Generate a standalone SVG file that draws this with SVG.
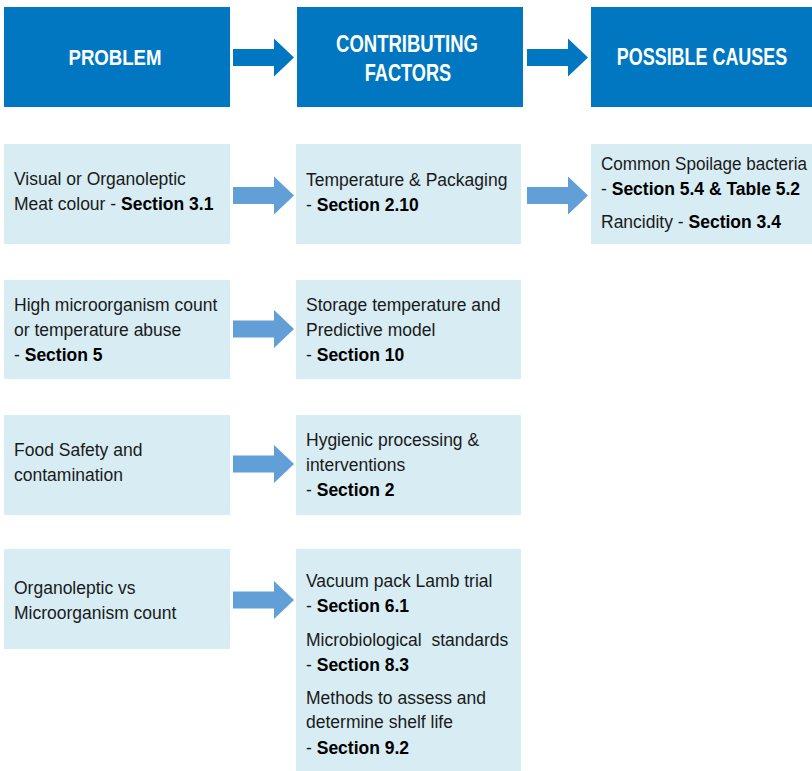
<svg xmlns="http://www.w3.org/2000/svg" width="812" height="771" viewBox="0 0 812 771">
<style>
.hdr{fill:#0077C0}
.box{fill:#D7ECF3}
.harr{fill:#0077C0}
.arr{fill:#619FD6}
.ht{font-family:"Liberation Sans",Arial,sans-serif;font-weight:bold;font-size:23px;fill:#FFFFFF;text-anchor:middle}
.t{font-family:"Liberation Sans",Arial,sans-serif;font-size:17.5px;fill:#1A1A1A}
.b{font-weight:bold;fill:#000000}
</style>
<defs>
<polygon id="arrow" points="0,-8.5 41,-8.5 41,-19 61,0 41,19 41,8.5 0,8.5"/>
</defs>
<rect width="812" height="771" fill="#FFFFFF"/>

<g id="hdr-problem">
<rect class="hdr" x="4" y="7" width="226" height="100"/>
<text class="ht" transform="translate(115 65) scale(0.81 1)">PROBLEM</text>
</g>
<g id="hdr-factors">
<rect class="hdr" x="297" y="7" width="226" height="100"/>
<text class="ht" transform="translate(407 52) scale(0.805 1)">CONTRIBUTING</text>
<text class="ht" transform="translate(408 81) scale(0.79 1)">FACTORS</text>
</g>
<g id="hdr-causes">
<rect class="hdr" x="591" y="7" width="221" height="100"/>
<text class="ht" transform="translate(702 65) scale(0.78 1)">POSSIBLE CAUSES</text>
</g>

<g id="p1">
<rect class="box" x="4" y="144" width="226" height="100"/>
<text class="t" x="14" y="185">Visual or Organoleptic</text>
<text class="t" x="14" y="210">Meat colour - <tspan class="b">Section 3.1</tspan></text>
</g>
<g id="f1">
<rect class="box" x="296" y="144" width="225" height="100"/>
<text class="t" x="306" y="186">Temperature &amp; Packaging</text>
<text class="t" x="306" y="211">- <tspan class="b">Section 2.10</tspan></text>
</g>
<g id="c1">
<rect class="box" x="591" y="144" width="221" height="100"/>
<text class="t" x="601" y="170" textLength="206" lengthAdjust="spacingAndGlyphs">Common Spoilage bacteria</text>
<text class="t" x="601" y="195">- <tspan class="b">Section 5.4 &amp; Table 5.2</tspan></text>
<text class="t" x="601" y="228">Rancidity - <tspan class="b">Section 3.4</tspan></text>
</g>

<g id="p2">
<rect class="box" x="4" y="280" width="226" height="99"/>
<text class="t" x="14" y="311">High microorganism count</text>
<text class="t" x="14" y="336">or temperature abuse</text>
<text class="t" x="14" y="361">- <tspan class="b">Section 5</tspan></text>
</g>
<g id="f2">
<rect class="box" x="296" y="280" width="225" height="99"/>
<text class="t" x="306" y="311">Storage temperature and</text>
<text class="t" x="306" y="336">Predictive model</text>
<text class="t" x="306" y="361">- <tspan class="b">Section 10</tspan></text>
</g>

<g id="p3">
<rect class="box" x="4" y="415" width="226" height="100"/>
<text class="t" x="14" y="456">Food Safety and</text>
<text class="t" x="14" y="481">contamination</text>
</g>
<g id="f3">
<rect class="box" x="296" y="415" width="225" height="100"/>
<text class="t" x="306" y="446">Hygienic processing &amp;</text>
<text class="t" x="306" y="471">interventions</text>
<text class="t" x="306" y="496">- <tspan class="b">Section 2</tspan></text>
</g>

<g id="p4">
<rect class="box" x="4" y="549" width="226" height="100"/>
<text class="t" x="14" y="594">Organoleptic vs</text>
<text class="t" x="14" y="619">Microorganism count</text>
</g>
<g id="f4">
<rect class="box" x="296" y="549" width="225" height="222"/>
<text class="t" x="306" y="587">Vacuum pack Lamb trial</text>
<text class="t" x="306" y="612">- <tspan class="b">Section 6.1</tspan></text>
<text class="t" x="306" y="646" xml:space="preserve">Microbiological  standards</text>
<text class="t" x="306" y="671">- <tspan class="b">Section 8.3</tspan></text>
<text class="t" x="306" y="704">Methods to assess and</text>
<text class="t" x="306" y="728">determine shelf life</text>
<text class="t" x="306" y="754">- <tspan class="b">Section 9.2</tspan></text>
</g>

<g id="connectors">
<use href="#arrow" class="harr" x="233" y="57.5"/>
<use href="#arrow" class="harr" x="527" y="57.5"/>
<use href="#arrow" class="arr" x="233" y="195.5"/>
<use href="#arrow" class="arr" x="527" y="195.5"/>
<use href="#arrow" class="arr" x="233" y="329"/>
<use href="#arrow" class="arr" x="233" y="464"/>
<use href="#arrow" class="arr" x="233" y="600"/>
</g>
</svg>
